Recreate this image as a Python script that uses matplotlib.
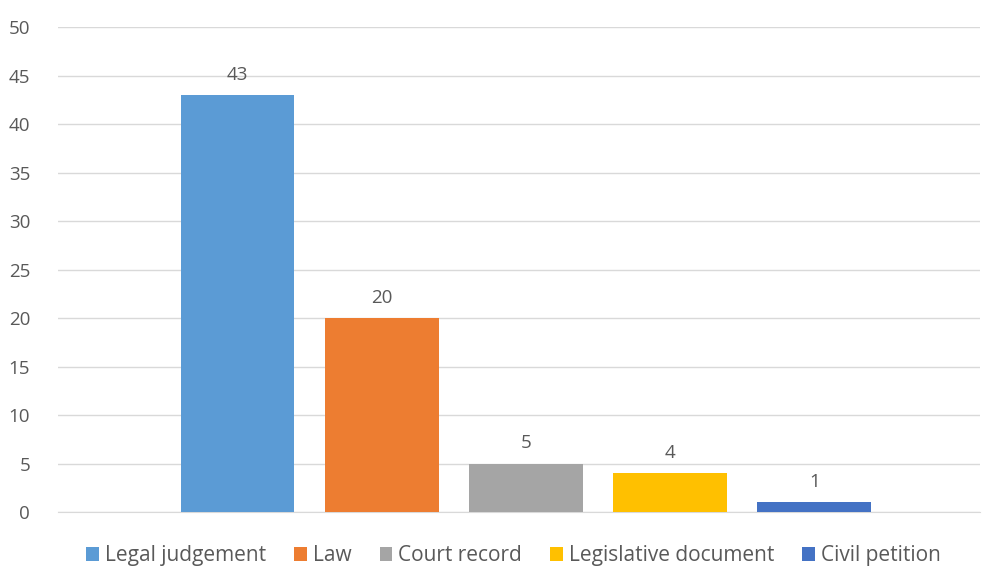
import matplotlib.pyplot as plt
import numpy as np

plt.rcParams['font.family'] = ['Open Sans', 'DejaVu Sans']

# data
labels = ['Legal judgement', 'Law', 'Court record', 'Legislative document', 'Civil petition']
counts = [43, 20, 5, 4, 1]
colors = ['#5B9BD5', '#ED7D31', '#A5A5A5', '#FFC000', '#4472C4']
yticks = [0, 5, 10, 15, 20, 25, 30, 35, 40, 45, 50]

text_color = '#595959'

fig = plt.figure(figsize=(9.82, 5.67), dpi=100)
ax = fig.add_axes([0.059, 0.097, 0.939, 0.855])

# one category, five series side by side
n = len(counts)
offsets = np.arange(n) - (n - 1) / 2
for off, val, lab, col in zip(offsets, counts, labels, colors):
    b = ax.bar(off, val, width=0.79, color=col, label=lab, zorder=3)
    ax.bar_label(b, padding=8, fontsize=13.5, color=text_color)

ax.set_ylim(0, 50)
ax.set_xlim(-3.245, 3.148)
ax.set_yticks(yticks)
ax.set_xticks([])
ax.yaxis.grid(True, color='#D9D9D9', linewidth=1, zorder=0)
ax.tick_params(axis='y', length=0, labelsize=13.5, labelcolor=text_color, pad=20)
for s in ['top', 'right', 'left']:
    ax.spines[s].set_visible(False)
ax.spines['bottom'].set_color('#D9D9D9')

fig.legend(loc='lower center', bbox_to_anchor=(0.523, -0.032), ncol=5, frameon=False,
           fontsize=15, labelcolor=text_color, handlelength=0.6, handleheight=0.6,
           handletextpad=0.3, columnspacing=1.35)

fig.savefig('out.png', dpi=100)
